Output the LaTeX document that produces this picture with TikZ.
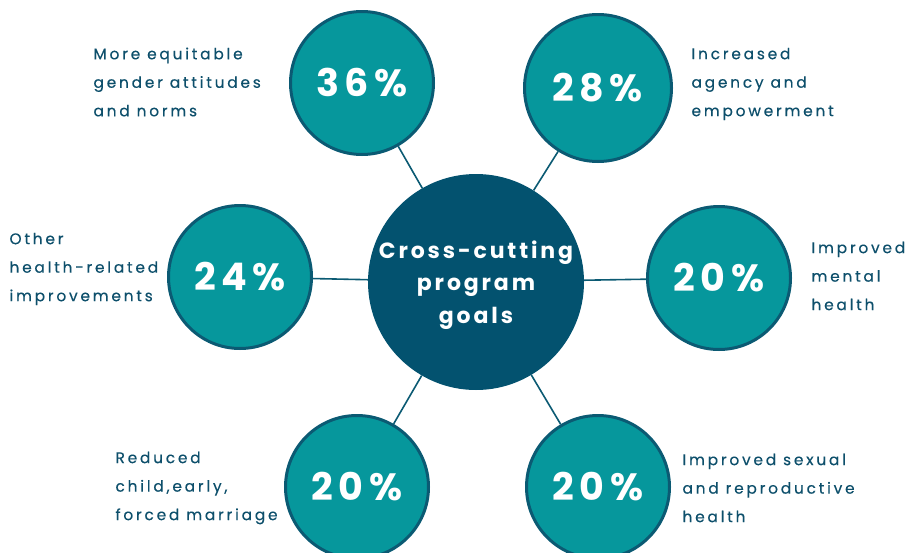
\documentclass[tikz,border=0pt]{standalone}
\usepackage{fontspec}
\usepackage{xcolor}
\usetikzlibrary{positioning}
\setmainfont{Poppins}
\newfontfamily\labelfont[LetterSpace=18,FakeBold=0.35]{Poppins}
\newfontfamily\pctfont[LetterSpace=14]{Poppins}
\newfontfamily\hubfont[LetterSpace=13]{Poppins}
\definecolor{gteal}{HTML}{06979C}
\definecolor{gring}{HTML}{0B5A73}
\definecolor{ghub}{HTML}{03526F}
\definecolor{gtext}{HTML}{0D4F6B}

\begin{document}
\begin{tikzpicture}[
  x=1pt, y=-1pt,
  goal/.style={circle, draw=gring, line width=3pt, fill=gteal, minimum size=143pt, inner sep=0pt, text=white, font=\pctfont\bfseries\fontsize{38}{40}\selectfont},
  hub/.style={circle, fill=ghub, minimum size=216pt, inner sep=0pt, text=white, align=center, font=\hubfont\bfseries\fontsize{22}{32.5}\selectfont},
  lbl/.style={anchor=west, align=left, text=gtext, font=\labelfont\fontsize{15.4}{28.5}\selectfont},
  link/.style={draw=gring, line width=1.6pt},
]
  \useasboundingbox (0,0) rectangle (908,552);

  \node[hub] (hub) at (476,282) {};
  \node[text=white, align=center, font=\hubfont\bfseries\fontsize{22}{32.5}\selectfont] (hubtxt) at (476,285) {Cross-cutting\\program\\goals};

  \node[goal] (gender) at (362,83) {36\%};
  \node[goal, minimum size=147pt] (agency) at (598,88) {28\%};
  \node[goal] (mental) at (719,278) {20\%};
  \node[goal] (other) at (240,277) {24\%};
  \node[goal] (marriage) at (357,487) {20\%};
  \node[goal] (srh) at (598,487) {20\%};

  \node[lbl] (gendertxt) at (90,82) {More equitable\\gender attitudes\\and norms};
  \node[lbl] (agencytxt) at (688,84) {Increased\\agency and\\empowerment};
  \node[lbl] (mentaltxt) at (808,276) {Improved\\mental\\health};
  \node[lbl] (othertxt) at (6,269) {Other\\health-related\\improvements};
  \node[lbl] (marriagetxt) at (112,488) {Reduced\\child,early,\\forced marriage};
  \node[lbl] (srhtxt) at (679,488) {Improved sexual\\and reproductive\\health};

  \draw[link] (hub) -- (gender);
  \draw[link] (hub) -- (agency);
  \draw[link] (hub) -- (mental);
  \draw[link] (hub) -- (other);
  \draw[link] (hub) -- (marriage);
  \draw[link] (hub) -- (srh);
\end{tikzpicture}
\end{document}
